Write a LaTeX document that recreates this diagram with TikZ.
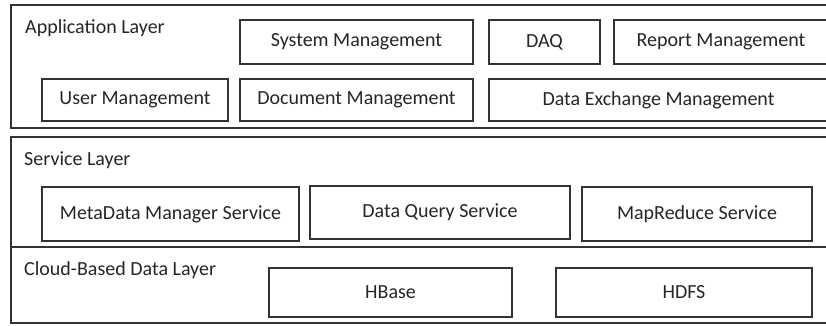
\documentclass[tikz,border=0pt]{standalone}
\usepackage{fontspec}
\setmainfont{Carlito}
\begin{document}
\begin{tikzpicture}[x=1pt,y=-1pt,
  layer/.style={draw=black!80,line width=1.3pt},
  box/.style={draw=black!80,line width=1.1pt,inner sep=0pt,font=\fontsize{20}{24}\selectfont,text=black!85},
  lbl/.style={anchor=west,inner sep=0pt,font=\fontsize{20}{24}\selectfont,text=black!85}]
\useasboundingbox (0,0) rectangle (826,325);
\clip (0,0) rectangle (826,325);
\fill[white] (0,0) rectangle (826,325);
% layers
\draw[layer] (11,5) rectangle (845,128);
\draw[layer] (11,137) rectangle (845,247);
\draw[layer] (11,247) rectangle (845,323);
\node[lbl] (app) at (25,28) {Application Layer};
\node[lbl] (svc) at (24,160) {Service Layer};
\node[lbl] (cld) at (24,270) {Cloud-Based Data Layer};
% application boxes
\node[box,minimum width=233pt,minimum height=44pt] (sys) at (356.5,42) {System Management};
\node[box,minimum width=111pt,minimum height=44pt] (daq) at (544.5,42) {DAQ};
\node[box,minimum width=214pt,minimum height=44pt] (rep) at (721,42) {Report Management};
\node[box,minimum width=186pt,minimum height=42pt] (usr) at (135,100) {User Management};
\node[box,minimum width=233pt,minimum height=42pt] (doc) at (356.5,100) {Document Management};
\node[box,minimum width=339pt,minimum height=42pt] (dex) at (658.5,100) {Data Exchange Management};
% service boxes
\node[box,minimum width=257pt,minimum height=54pt] (meta) at (170.5,214) {MetaData Manager Service};
\node[box,minimum width=260pt,minimum height=53pt] (dq) at (440,212.5) {Data Query Service};
\node[box,minimum width=230pt,minimum height=54pt] (mr) at (697,214) {MapReduce Service};
% data boxes
\node[box,minimum width=243pt,minimum height=49pt] (hb) at (390.5,292.5) {HBase};
\node[box,minimum width=256pt,minimum height=49pt] (hdfs) at (684,292.5) {HDFS};
\end{tikzpicture}
\end{document}
